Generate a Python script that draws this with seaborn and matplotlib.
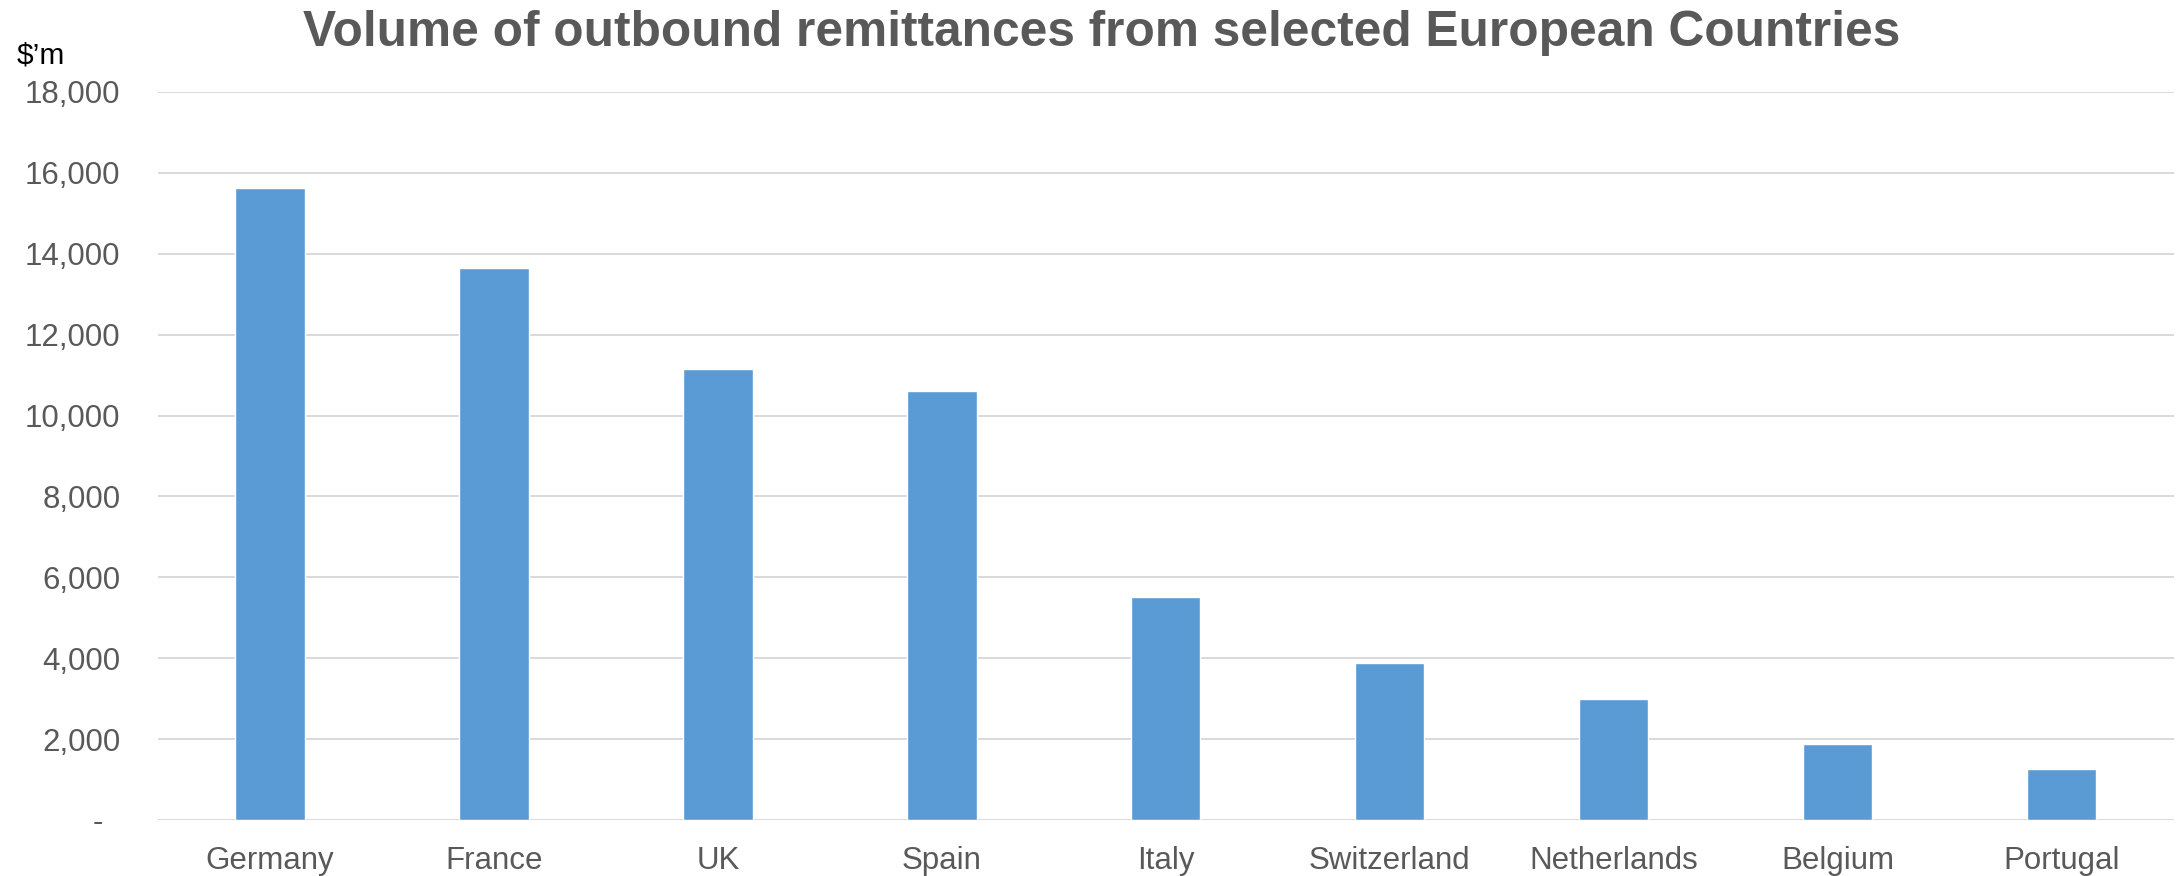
import seaborn as sns
import matplotlib.pyplot as plt
import pandas as pd
from matplotlib.ticker import FuncFormatter

countries = ["Germany", "France", "UK", "Spain", "Italy",
             "Switzerland", "Netherlands", "Belgium", "Portugal"]
remittances = [15620, 13650, 11150, 10600, 5520, 3880, 2990, 1880, 1255]
y_ticks = [0, 2000, 4000, 6000, 8000, 10000, 12000, 14000, 16000, 18000]

df = pd.DataFrame({"country": countries, "volume": remittances})

sns.set_style("white")
plt.rcParams["font.family"] = ["Liberation Sans", "DejaVu Sans"]

fig = plt.figure(figsize=(21.78, 8.76), dpi=100)
ax = fig.add_axes([0.0725, 0.064, 0.9255, 0.831])

sns.barplot(data=df, x="country", y="volume", color="#5b9bd5",
            saturation=1, width=0.31, ax=ax)

ax.set_ylim(0, 18000)
ax.set_xlim(-0.5, len(countries) - 0.5)
ax.set_yticks(y_ticks)
# Excel accounting style: zero shown as a dash with some padding
ax.yaxis.set_major_formatter(FuncFormatter(lambda v, p: "-  " if v == 0 else f"{v:,.0f}"))
ax.grid(axis="y", color="#d9d9d9", linewidth=1.4)
ax.set_axisbelow(True)
for s in ax.spines.values():
    s.set_visible(False)
ax.tick_params(axis="y", length=0, pad=27, labelsize=22.5, labelcolor="#595959")
ax.tick_params(axis="x", length=0, pad=19, labelsize=22.5, labelcolor="#595959")
ax.set_xlabel("")
ax.set_ylabel("")

fig.text(0.506, 1 - 46.5 / 876, "Volume of outbound remittances from selected European Countries",
         ha="center", va="baseline", fontsize=35.7, fontweight="bold", color="#595959")
fig.text(17 / 2178, 1 - 63.5 / 876, "$\u2019m", ha="left", va="baseline",
         fontsize=21.5, color="black")

fig.savefig("out.png", dpi=100)
